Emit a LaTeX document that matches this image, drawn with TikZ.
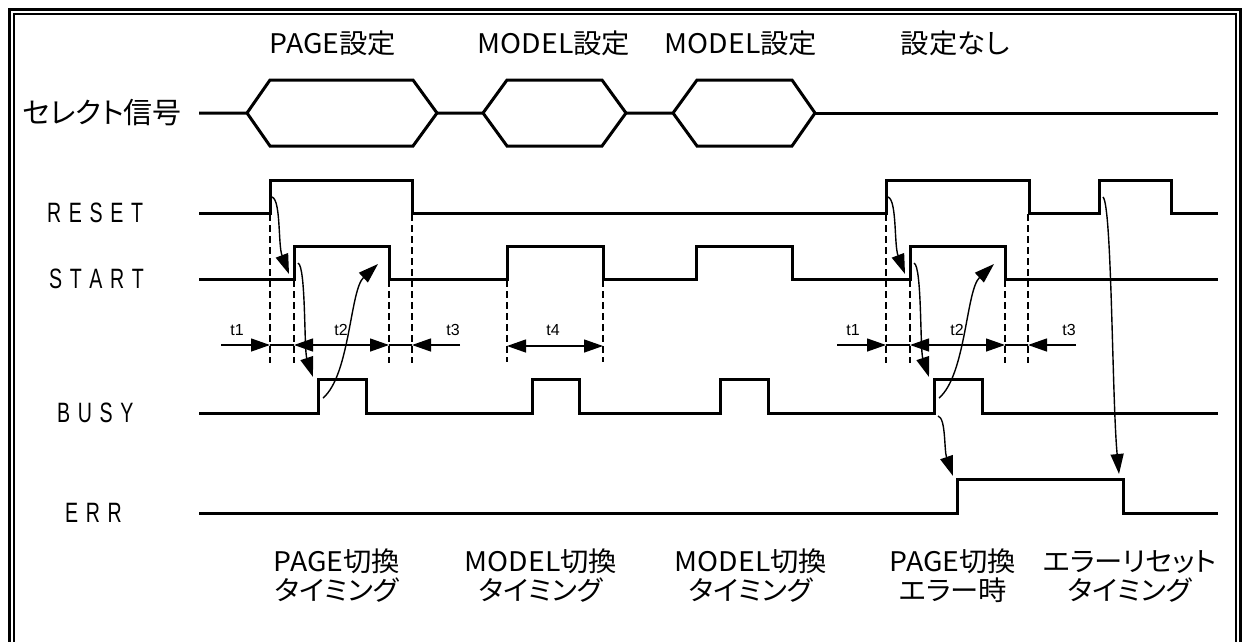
\documentclass[tikz,border=0pt]{standalone}
\usepackage{fontspec}
\setmainfont{Liberation Sans}
\newfontfamily\jp[RawFeature=+palt]{Noto Sans CJK JP}
\newfontfamily\jpw[RawFeature=+palt,FakeStretch=1.05]{Noto Sans CJK JP}
\newfontfamily\sigf[FakeStretch=0.7,WordSpace=1.4]{Liberation Sans}
\usetikzlibrary{arrows.meta}
\begin{document}
\begin{tikzpicture}[x=1pt,y=-1pt,
  wave/.style={line width=3pt, line join=miter},
  dashv/.style={line width=1.4pt, dash pattern=on 7pt off 4pt},
  thin/.style={line width=1.3pt},
  cause/.style={line width=1.4pt, -{Triangle[length=20pt,width=13pt]}},
  tip/.style={-{Triangle[length=19pt,width=13pt]}},
  tips/.style={{Triangle[length=19pt,width=13pt]}-{Triangle[length=19pt,width=13pt]}},
  toplabel/.style={inner sep=0pt, font=\jpw\fontsize{27}{29}\selectfont},
  botlabel/.style={inner sep=0pt, align=center, font=\jpw\fontsize{27}{29}\selectfont},
  siglabel/.style={inner sep=0pt, anchor=west, font=\sigf\fontsize{28}{28}\selectfont},
  tlabel/.style={inner sep=0pt, font=\fontsize{16}{16}\selectfont}
]
\useasboundingbox (0,0) rectangle (1244,641);
\clip (0,0) rectangle (1244,641);
% frame
\draw[line width=3pt] (9.5,660) -- (9.5,9.5) -- (1240.5,9.5) -- (1240.5,660);
\draw[line width=2pt] (14,660) -- (14,14) -- (1236,14) -- (1236,660);

% top labels
\node[toplabel] (l1) at (333,43) {PAGE設定};
\node[toplabel] (l2) at (554,43) {MODEL設定};
\node[toplabel] (l3) at (741,43) {MODEL設定};
\node[toplabel] (l4) at (955,43) {設定なし};

% signal names
\node[inner sep=0pt, font=\jp\fontsize{29}{29}\selectfont] (nsel) at (102,113) {セレクト信号};
\node[siglabel] (nreset) at (47,213) {R E S E T};
\node[siglabel] (nstart) at (49,279) {S T A R T};
\node[siglabel] (nbusy) at (57,413) {B U S Y};
\node[siglabel] (nerr) at (65,513) {E R R};

% select signal
\draw[wave] (199,113) -- (247,113) -- (270,80) -- (413,80) -- (437,113) -- (413,146) -- (270,146) -- (247,113);
\draw[wave] (437,113) -- (483,113) -- (507,80) -- (602,80) -- (626,113) -- (602,146) -- (507,146) -- (483,113);
\draw[wave] (626,113) -- (673,113) -- (697,80) -- (792,80) -- (815,113) -- (792,146) -- (697,146) -- (673,113);
\draw[wave] (815,113) -- (1218,113);

% RESET
\draw[wave] (199,213) -- (270,213) -- (270,180) -- (412,180) -- (412,213) -- (886,213) -- (886,180) -- (1029,180) -- (1029,213) -- (1099,213) -- (1099,180) -- (1171,180) -- (1171,213) -- (1218,213);
% START
\draw[wave] (199,279) -- (294,279) -- (294,246) -- (389,246) -- (389,279) -- (507,279) -- (507,246) -- (603,246) -- (603,279) -- (696,279) -- (696,246) -- (792,246) -- (792,279) -- (910,279) -- (910,246) -- (1005,246) -- (1005,279) -- (1218,279);
% BUSY
\draw[wave] (199,413) -- (318,413) -- (318,379) -- (366,379) -- (366,413) -- (532,413) -- (532,379) -- (579,379) -- (579,413) -- (720,413) -- (720,379) -- (768,379) -- (768,413) -- (934,413) -- (934,379) -- (982,379) -- (982,413) -- (1218,413);
% ERR
\draw[wave] (199,513) -- (957,513) -- (957,479) -- (1123,479) -- (1123,513) -- (1218,513);

% dashed guides
\foreach \dx in {0,616} {
  \draw[dashv] (270+\dx,214) -- (270+\dx,363);
  \draw[dashv] (294+\dx,280) -- (294+\dx,363);
  \draw[dashv] (389+\dx,280) -- (389+\dx,363);
  \draw[dashv] (412+\dx,214) -- (412+\dx,363);
}
\draw[dashv] (507,280) -- (507,362);
\draw[dashv] (603,280) -- (603,362);

% timing arrows group 1 and 2
\foreach \dx/\n in {0/a,616/b} {
  \coordinate (p1\n) at (221+\dx,345);
  \coordinate (p2\n) at (270+\dx,345);
  \coordinate (p3\n) at (294+\dx,345);
  \coordinate (p4\n) at (389+\dx,345);
  \coordinate (p5\n) at (412+\dx,345);
  \coordinate (p6\n) at (460+\dx,345);
  \draw[thin,tip] (p1\n) -- (p2\n);
  \draw[thin] (p2\n) -- (p3\n);
  \draw[thin,tips] (p3\n) -- (p4\n);
  \draw[thin] (p4\n) -- (p5\n);
  \draw[thin,tip] (p6\n) -- (p5\n);
  \node[tlabel] (t1\n) at (237+\dx,330) {t1};
  \node[tlabel] (t2\n) at (341+\dx,330) {t2};
  \node[tlabel] (t3\n) at (453+\dx,330) {t3};
}
\coordinate (q1) at (507,346);
\coordinate (q2) at (603,346);
\draw[thin,tips] (q1) -- (q2);
\node[tlabel] (t4) at (553,330) {t4};

% causality curves
\foreach \dx/\n in {0/a,616/b} {
  \coordinate (ra\n) at (272+\dx,197);
  \coordinate (sa\n) at (289+\dx,274);
  \coordinate (rb\n) at (298+\dx,263);
  \coordinate (sb\n) at (313+\dx,377);
  \coordinate (rc\n) at (323+\dx,398);
  \coordinate (sc\n) at (378+\dx,264);
  \draw[cause] (ra\n) .. controls +(9,3) and +(-11,-29) .. (sa\n);
  \draw[cause] (rb\n) .. controls +(8,3) and +(-9,-27) .. (sb\n);
  \draw[cause] (rc\n) .. controls +(27,-23) and +(-28,26) .. (sc\n);
}
\coordinate (d1) at (938,416);
\coordinate (d2) at (953,476);
\draw[cause] (d1) .. controls +(8,2) and +(-9,-26) .. (d2);
\coordinate (e1) at (1103,197);
\coordinate (e2) at (1119,474);
\draw[cause] (e1) .. controls +(9,8) and +(-7,-74) .. (e2);

% bottom labels
\node[botlabel] (b1) at (337,576) {PAGE切換\\タイミング};
\node[botlabel] (b2) at (541,576) {MODEL切換\\タイミング};
\node[botlabel] (b3) at (751,576) {MODEL切換\\タイミング};
\node[botlabel] (b4) at (953,576) {PAGE切換\\エラー時};
\node[botlabel] (b5) at (1130,576) {エラーリセット\\タイミング};
\end{tikzpicture}
\end{document}
